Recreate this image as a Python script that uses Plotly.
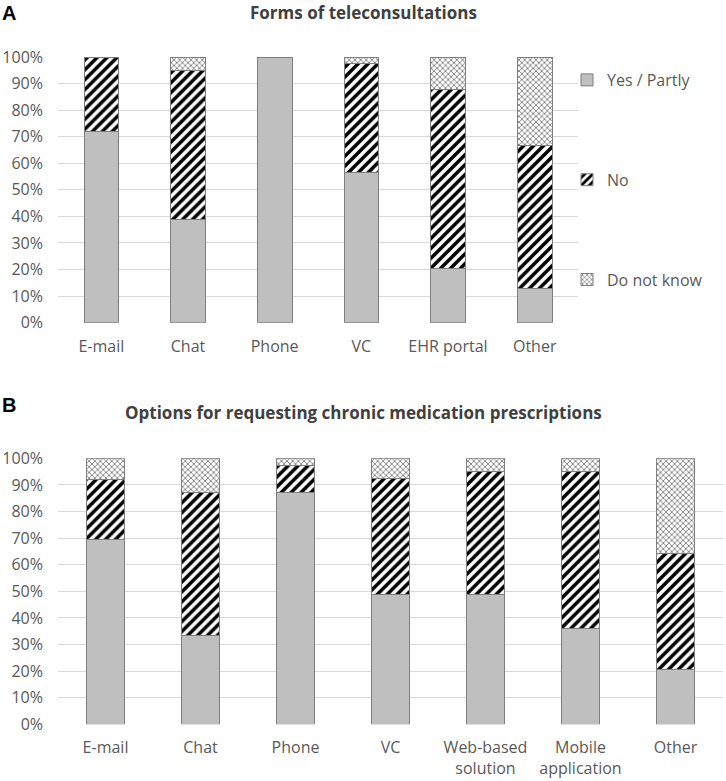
import plotly.graph_objects as go

# -----------------------------------------------------------------------------
# Data (shares)
# -----------------------------------------------------------------------------
categories_a = ["E-mail", "Chat", "Phone", "VC", "EHR portal", "Other"]
yes_a = [0.72, 0.387, 1.00, 0.567, 0.205, 0.13]
no_a = [0.28, 0.563, 0.00, 0.41, 0.672, 0.537]
dk_a = [0.00, 0.05, 0.00, 0.023, 0.123, 0.333]

categories_b = ["E-mail", "Chat", "Phone", "VC", "Web-based<br>solution",
                "Mobile<br>application", "Other"]
yes_b = [0.693, 0.333, 0.871, 0.487, 0.487, 0.359, 0.205]
no_b = [0.228, 0.539, 0.103, 0.436, 0.462, 0.59, 0.436]
dk_b = [0.079, 0.128, 0.026, 0.077, 0.051, 0.051, 0.359]

series_names = ["Yes / Partly", "No", "Do not know"]

FONT = "Open Sans"
TEXT = "#595959"
GRID = "#d9d9d9"
EDGE = "#7f7f7f"

# marker styles per series
styles = [
    dict(color="#bfbfbf", line=dict(color=EDGE, width=1)),
    dict(color="white", line=dict(color=EDGE, width=1),
         pattern=dict(shape="/", fgcolor="black", bgcolor="white", size=7, solidity=0.5)),
    dict(color="white", line=dict(color=EDGE, width=1),
         pattern=dict(shape="x", fgcolor="#262626", bgcolor="white", size=4, solidity=0.25)),
]

fig = go.Figure()

for name, vals, st in zip(series_names, [yes_a, no_a, dk_a], styles):
    fig.add_trace(go.Bar(x=categories_a, y=vals, name=name, marker=st,
                         width=0.4, xaxis="x", yaxis="y",
                         legendgroup=name, showlegend=True))

for name, vals, st in zip(series_names, [yes_b, no_b, dk_b], styles):
    fig.add_trace(go.Bar(x=categories_b, y=vals, name=name, marker=st,
                         width=0.4, xaxis="x2", yaxis="y2",
                         legendgroup=name, showlegend=False))

W, H = 726, 781


def px_x(v):
    return v / W


def px_y(v):
    return 1 - v / H


yax = dict(range=[0, 1], dtick=0.1, tickformat=".0%", showgrid=True,
           gridcolor=GRID, gridwidth=1, zeroline=False, showline=False,
           ticks="", ticklabelstandoff=14, automargin=False,
           tickfont=dict(family=FONT, size=16, color=TEXT), fixedrange=True)
xax = dict(showline=False, ticks="", showgrid=False, automargin=False,
           ticklabelstandoff=12,
           tickfont=dict(family=FONT, size=16, color=TEXT), fixedrange=True)

fig.update_layout(
    template="none",
    width=W, height=H,
    margin=dict(l=0, r=0, t=0, b=0, autoexpand=False),
    paper_bgcolor="white", plot_bgcolor="white",
    barmode="stack", bargap=0.6,
    font=dict(family=FONT, size=16, color=TEXT),
    xaxis=dict(xax, domain=[px_x(58), px_x(578)], anchor="y"),
    yaxis=dict(yax, domain=[px_y(322.7), px_y(57)], anchor="x"),
    xaxis2=dict(xax, domain=[px_x(58), px_x(723)], anchor="y2"),
    yaxis2=dict(yax, domain=[px_y(724.3), px_y(458.3)], anchor="x2"),
    legend=dict(x=px_x(567), y=px_y(63), xanchor="left", yanchor="top",
                tracegroupgap=76, itemwidth=30, bgcolor="rgba(0,0,0,0)",
                borderwidth=0,
                font=dict(family=FONT, size=16, color=TEXT)),
    annotations=[
        dict(text="<b>Forms of teleconsultations</b>", x=0.5, y=px_y(12),
             xref="paper", yref="paper", showarrow=False, yanchor="middle",
             font=dict(family=FONT, size=17, color="#404040")),
        dict(text="<b>Options for requesting chronic medication prescriptions</b>",
             x=0.5, y=px_y(412), xref="paper", yref="paper", showarrow=False,
             yanchor="middle", font=dict(family=FONT, size=17, color="#404040")),
        dict(text="<b>A</b>", x=0, y=px_y(13), xref="paper", yref="paper",
             showarrow=False, xanchor="left", yanchor="middle",
             font=dict(family="Liberation Sans", size=20, color="black")),
        dict(text="<b>B</b>", x=0, y=px_y(405), xref="paper", yref="paper",
             showarrow=False, xanchor="left", yanchor="middle",
             font=dict(family="Liberation Sans", size=20, color="black")),
    ],
)

# drop the default page margin so the figure sits at the window's corner
fig.write_html("out.html", config={"displayModeBar": False},
               post_script="document.body.style.margin = '0';")
